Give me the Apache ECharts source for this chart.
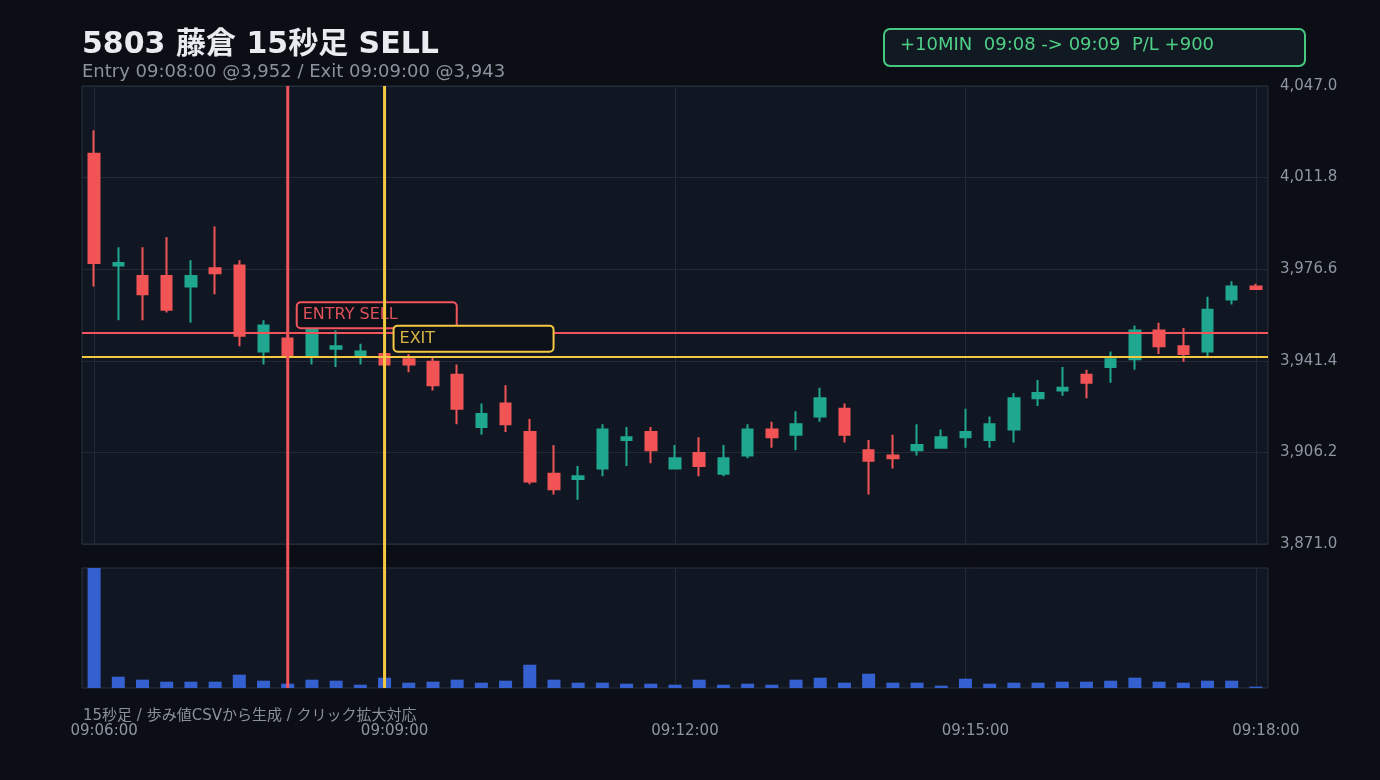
<!DOCTYPE html>
<html>
<head>
<meta charset="utf-8">
<script src="https://cdn.jsdelivr.net/npm/echarts@6/dist/echarts.min.js"></script>
<style>
  html, body { margin: 0; background: #0b0e14; }
  #chart { width: 1380px; height: 780px; }
</style>
</head>
<body>
<div id="chart"></div>
<script>
const FONT = '"DejaVu Sans", "Noto Sans CJK JP", sans-serif';

const times = [
  '09:06:00','09:06:15','09:06:30','09:06:45','09:07:00','09:07:15','09:07:30','09:07:45',
  '09:08:00','09:08:15','09:08:30','09:08:45','09:09:00','09:09:15','09:09:30','09:09:45',
  '09:10:00','09:10:15','09:10:30','09:10:45','09:11:00','09:11:15','09:11:30','09:11:45',
  '09:12:00','09:12:15','09:12:30','09:12:45','09:13:00','09:13:15','09:13:30','09:13:45',
  '09:14:00','09:14:15','09:14:30','09:14:45','09:15:00','09:15:15','09:15:30','09:15:45',
  '09:16:00','09:16:15','09:16:30','09:16:45','09:17:00','09:17:15','09:17:30','09:17:45',
  '09:18:00'
];
const opens  = [4021,3978,3974,3974,3970,3977,3978,3945,3950,3943,3946,3943,3944,3942,3941,3936,3916,3925,3914,3898,3896,3900,3911,3914,3900,3906,3898,3905,3915,3913,3920,3923,3907,3905,3907,3908,3912,3911,3915,3927,3930,3936,3939,3942,3953,3947,3945,3965,3970];
const closes = [3979,3979,3967,3961,3974,3975,3951,3955,3943,3954,3947,3945,3940,3940,3932,3923,3921,3917,3895,3892,3897,3915,3912,3907,3904,3901,3904,3915,3912,3917,3927,3913,3903,3904,3909,3912,3914,3917,3927,3929,3931,3933,3942,3953,3947,3944,3961,3970,3969];
const lows   = [3970,3957,3957,3960,3956,3967,3947,3940,3942,3940,3939,3940,3939,3937,3930,3917,3913,3914,3894,3890,3888,3897,3901,3902,3900,3897,3897,3904,3908,3907,3918,3910,3890,3900,3905,3908,3908,3908,3910,3924,3928,3927,3933,3938,3944,3941,3943,3963,3969];
const highs  = [4030,3985,3985,3989,3980,3993,3980,3957,3952,3956,3953,3948,3945,3944,3943,3940,3925,3932,3919,3909,3901,3917,3916,3916,3909,3912,3909,3917,3918,3922,3931,3925,3911,3913,3917,3915,3923,3920,3929,3934,3939,3938,3945,3955,3956,3954,3966,3972,3971];
const volumes = [36100,3400,2500,1900,1900,1900,4000,2200,1300,2500,2200,1000,3100,1600,1900,2500,1600,2200,7000,2500,1600,1600,1300,1300,1000,2500,1000,1300,1000,2500,3100,1600,4300,1600,1600,700,2800,1300,1600,1600,1900,1900,2200,3100,1900,1600,2200,2200,400];

const priceTicks = [3871.0, 3906.2, 3941.4, 3976.6, 4011.8, 4047.0];
const entryTime = '09:08:00', entryPrice = 3952;
const exitTime = '09:09:00', exitPrice = 3943;

const UP = '#1fa88f', DOWN = '#f25456', BLUE = '#3560d0';
const ENTRY_C = '#f2545b', EXIT_C = '#f5c842';
const GRID_BG = '#111722', GRID_BORDER = '#2a3240', SPLIT = '#222a36';
const LABEL_C = '#8e96a3';

const candles = times.map((t, i) => [opens[i], closes[i], lows[i], highs[i]]);

const chart = echarts.init(document.getElementById('chart'));
chart.setOption({
  backgroundColor: '#0b0e14',
  animation: false,
  textStyle: { fontFamily: FONT },
  title: {
    left: 82, top: 30, padding: 0, itemGap: 3,
    text: '5803 藤倉 15秒足 SELL',
    subtext: 'Entry ' + entryTime + ' @3,952 / Exit ' + exitTime + ' @3,943',
    textStyle: { color: '#e8ebf0', fontSize: 30, fontWeight: 'bold', fontFamily: FONT },
    subtextStyle: { color: '#8b929e', fontSize: 18, fontFamily: FONT }
  },
  grid: [
    { left: 82, right: 112, top: 86, height: 458, show: true, backgroundColor: GRID_BG, borderColor: GRID_BORDER, borderWidth: 1 },
    { left: 82, right: 112, top: 568, height: 120, show: true, backgroundColor: GRID_BG, borderColor: GRID_BORDER, borderWidth: 1 }
  ],
  xAxis: [
    {
      type: 'category', gridIndex: 0, data: times, boundaryGap: true,
      axisLine: { show: false }, axisTick: { show: false }, axisLabel: { show: false },
      splitLine: { show: true, interval: 11, alignWithLabel: true, lineStyle: { color: SPLIT } }
    },
    {
      type: 'category', gridIndex: 1, data: times, boundaryGap: true,
      axisLine: { show: false }, axisTick: { show: false },
      axisLabel: { show: true, interval: 11, color: LABEL_C, fontSize: 15, margin: 36, padding: [0, 0, 0, 20], fontFamily: FONT },
      splitLine: { show: true, interval: 11, alignWithLabel: true, lineStyle: { color: SPLIT } }
    }
  ],
  yAxis: [
    {
      type: 'value', gridIndex: 0, position: 'right', scale: true,
      min: priceTicks[0], max: priceTicks[priceTicks.length - 1], interval: 35.2,
      axisLine: { show: false }, axisTick: { show: false },
      axisLabel: {
        color: LABEL_C, fontSize: 15, margin: 12, fontFamily: FONT,
        formatter: v => v.toLocaleString('en-US', { minimumFractionDigits: 1, maximumFractionDigits: 1 })
      },
      splitLine: { show: true, lineStyle: { color: SPLIT } }
    },
    {
      type: 'value', gridIndex: 1, min: 0, max: 'dataMax',
      axisLine: { show: false }, axisTick: { show: false }, axisLabel: { show: false },
      splitLine: { show: false }
    }
  ],
  series: [
    {
      type: 'candlestick', xAxisIndex: 0, yAxisIndex: 0, data: candles, barWidth: 11,
      itemStyle: { color: UP, color0: DOWN, borderColor: UP, borderColor0: DOWN, borderWidth: 2 },
      markLine: {
        silent: true, symbol: ['none', 'none'], label: { show: false },
        data: [
          { yAxis: entryPrice, lineStyle: { color: ENTRY_C, width: 2, type: 'solid' } },
          { yAxis: exitPrice, lineStyle: { color: EXIT_C, width: 2, type: 'solid' } }
        ]
      }
    },
    {
      type: 'bar', xAxisIndex: 1, yAxisIndex: 1, data: volumes, barWidth: 13,
      itemStyle: { color: BLUE }
    }
  ]
});

// annotations placed from the axes' own scales
const xE = chart.convertToPixel({ xAxisIndex: 0 }, entryTime);
const xX = chart.convertToPixel({ xAxisIndex: 0 }, exitTime);
const yE = chart.convertToPixel({ yAxisIndex: 0 }, entryPrice);
const yX = chart.convertToPixel({ yAxisIndex: 0 }, exitPrice);
const yTop = chart.convertToPixel({ yAxisIndex: 0 }, priceTicks[priceTicks.length - 1]);
const yBot = chart.convertToPixel({ yAxisIndex: 1 }, 0);

function tagBox(x, y, text, stroke, fill) {
  return [
    { type: 'rect', z: 100, shape: { x: x + 9, y: y - 31, width: 160, height: 26, r: 4 },
      style: { fill: '#0c1018', stroke: stroke, lineWidth: 2 } },
    { type: 'text', z: 101, x: x + 15, y: y - 18,
      style: { text: text, fill: fill, fontSize: 16, fontFamily: FONT, verticalAlign: 'middle' } }
  ];
}

chart.setOption({
  graphic: [
    { type: 'rect', z: 100, shape: { x: 884, y: 29, width: 421, height: 37, r: 6 },
      style: { fill: '#111a22', stroke: '#45c97f', lineWidth: 2 } },
    { type: 'text', z: 101, x: 900, y: 45,
      style: { text: '+10MIN  09:08 -> 09:09  P/L +900', fill: '#4fcf86', fontSize: 18, fontFamily: FONT, verticalAlign: 'middle' } },
    { type: 'text', z: 101, x: 83, y: 716,
      style: { text: '15秒足 / 歩み値CSVから生成 / クリック拡大対応', fill: '#8a919c', fontSize: 15, fontFamily: FONT, verticalAlign: 'middle' } },
    ...tagBox(xE, yE, 'ENTRY SELL', ENTRY_C, '#e0515a'),
    ...tagBox(xX, yX, 'EXIT', EXIT_C, '#d9b443'),
    { type: 'line', z: 110, shape: { x1: xE, y1: yTop, x2: xE, y2: yBot }, style: { stroke: ENTRY_C, lineWidth: 3 } },
    { type: 'line', z: 110, shape: { x1: xX, y1: yTop, x2: xX, y2: yBot }, style: { stroke: EXIT_C, lineWidth: 3 } }
  ]
});
</script>
</body>
</html>
